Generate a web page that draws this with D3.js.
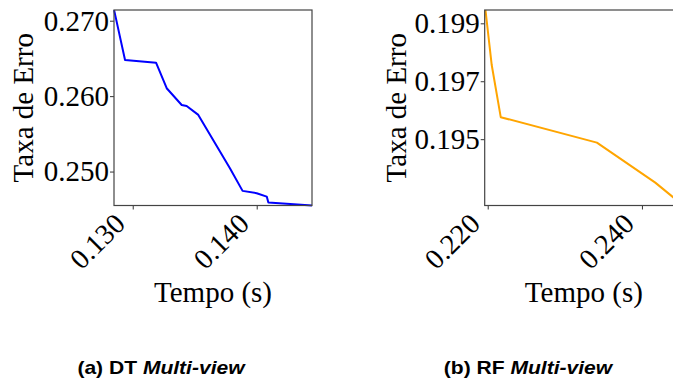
<!DOCTYPE html>
<html>
<head>
<meta charset="utf-8">
<script src="https://cdn.jsdelivr.net/npm/d3@7"></script>
<style>
  body { margin: 0; background: #fff; }
  svg { display: block; }
</style>
</head>
<body>
<svg id="chart" width="673" height="381"></svg>
<script>
// DT multi-view: time (s) vs error rate
const dtTime  = [0.1285, 0.12938, 0.13188, 0.13274, 0.13395, 0.13435, 0.13529, 0.13784, 0.13886, 0.14000, 0.14081, 0.14094, 0.14446];
const dtError = [0.2714, 0.2648, 0.26444, 0.26105, 0.25883, 0.2587, 0.25751, 0.25045, 0.24744, 0.24713, 0.24668, 0.24589, 0.2455];
const dtXTicks = [0.130, 0.140];
const dtYTicks = [0.250, 0.260, 0.270];

// RF multi-view
const rfTime  = [0.21971, 0.22052, 0.22169, 0.23416, 0.24173, 0.24536];
const rfError = [0.19946, 0.19756, 0.19576, 0.19488, 0.19350, 0.19271];
const rfXTicks = [0.220, 0.240];
const rfYTicks = [0.195, 0.197, 0.199];

const xLabel = 'Tempo (s)';
const yLabel = 'Taxa de Erro';

const svg = d3.select('#chart');
const plotTop = 10, plotBottom = 205.5;
const serif = '"Liberation Serif", "DejaVu Serif", serif';

function panel(opt) {
  const g = svg.append('g');
  const x = d3.scaleLinear().domain(opt.xDomain).range([opt.left, opt.right]);
  const y = d3.scaleLinear().domain(opt.yDomain).range([plotBottom, plotTop]);
  const pts = opt.time.map((t, i) => ({ t: t, e: opt.error[i] }));

  // line
  g.append('path')
    .datum(pts)
    .attr('fill', 'none')
    .attr('stroke', opt.color)
    .attr('stroke-width', 2)
    .attr('stroke-linejoin', 'round')
    .attr('d', d3.line().x(d => x(d.t)).y(d => y(d.e)));

  // axes
  const ax = g.append('g')
    .attr('transform', 'translate(0,' + plotBottom + ')')
    .call(d3.axisBottom(x).tickValues(opt.xTicks).tickSize(4).tickFormat(''));
  const ay = g.append('g')
    .attr('transform', 'translate(' + opt.left + ',0)')
    .call(d3.axisLeft(y).tickValues(opt.yTicks).tickSize(4).tickFormat(''));
  [ax, ay].forEach(a => {
    a.select('.domain').remove();
    a.selectAll('line').attr('stroke', '#333').attr('stroke-width', 1);
  });

  // frame
  g.append('rect')
    .attr('x', opt.left).attr('y', plotTop)
    .attr('width', opt.right - opt.left).attr('height', plotBottom - plotTop)
    .attr('fill', 'none').attr('stroke', '#444').attr('stroke-width', 1.2);

  // y tick labels
  opt.yTicks.forEach(v => {
    g.append('text')
      .attr('x', opt.left - 5).attr('y', y(v))
      .attr('dy', '0.34em')
      .attr('text-anchor', 'end')
      .style('font-family', serif).style('font-size', '29px')
      .text(d3.format('.3f')(v));
  });

  // x tick labels, rotated
  opt.xTicks.forEach(v => {
    g.append('text')
      .attr('transform', 'translate(' + (x(v) - 6) + ',' + (plotBottom + 20) + ') rotate(-45)')
      .attr('text-anchor', 'end')
      .style('font-family', serif).style('font-size', '28.5px')
      .text(d3.format('.3f')(v));
  });

  // axis titles
  g.append('text')
    .attr('x', (opt.left + opt.right) / 2).attr('y', 302)
    .attr('text-anchor', 'middle')
    .style('font-family', serif).style('font-size', '29px')
    .text(xLabel);
  g.append('text')
    .attr('transform', 'translate(' + opt.yLabelX + ',' + (plotTop + plotBottom) / 2 + ') rotate(-90)')
    .attr('text-anchor', 'middle')
    .style('font-family', serif).style('font-size', '29px')
    .text(yLabel);

  // caption
  const cap = svg.append('text')
    .attr('transform', 'translate(' + opt.capX + ',373.5) scale(1.17,1)')
    .attr('text-anchor', 'middle')
    .style('font-family', '"Liberation Sans", Arial, sans-serif')
    .style('font-size', '18px')
    .style('font-weight', 'bold');
  cap.append('tspan').text(opt.caption[0]);
  cap.append('tspan').style('font-style', 'italic').text(opt.caption[1]);
}

panel({
  time: dtTime, error: dtError, xTicks: dtXTicks, yTicks: dtYTicks,
  xDomain: [0.12849, 0.14446], yDomain: [0.2455, 0.27142],
  left: 114, right: 312, yLabelX: 33, color: '#0000ff',
  capX: 161, caption: ['(a) DT ', 'Multi-view']
});
panel({
  time: rfTime, error: rfError, xTicks: rfXTicks, yTicks: rfYTicks,
  xDomain: [0.21961, 0.245324], yDomain: [0.19271, 0.19946],
  left: 484.7, right: 683, yLabelX: 406, color: '#ffa500',
  capX: 528, caption: ['(b) RF ', 'Multi-view']
});
</script>
</body>
</html>
